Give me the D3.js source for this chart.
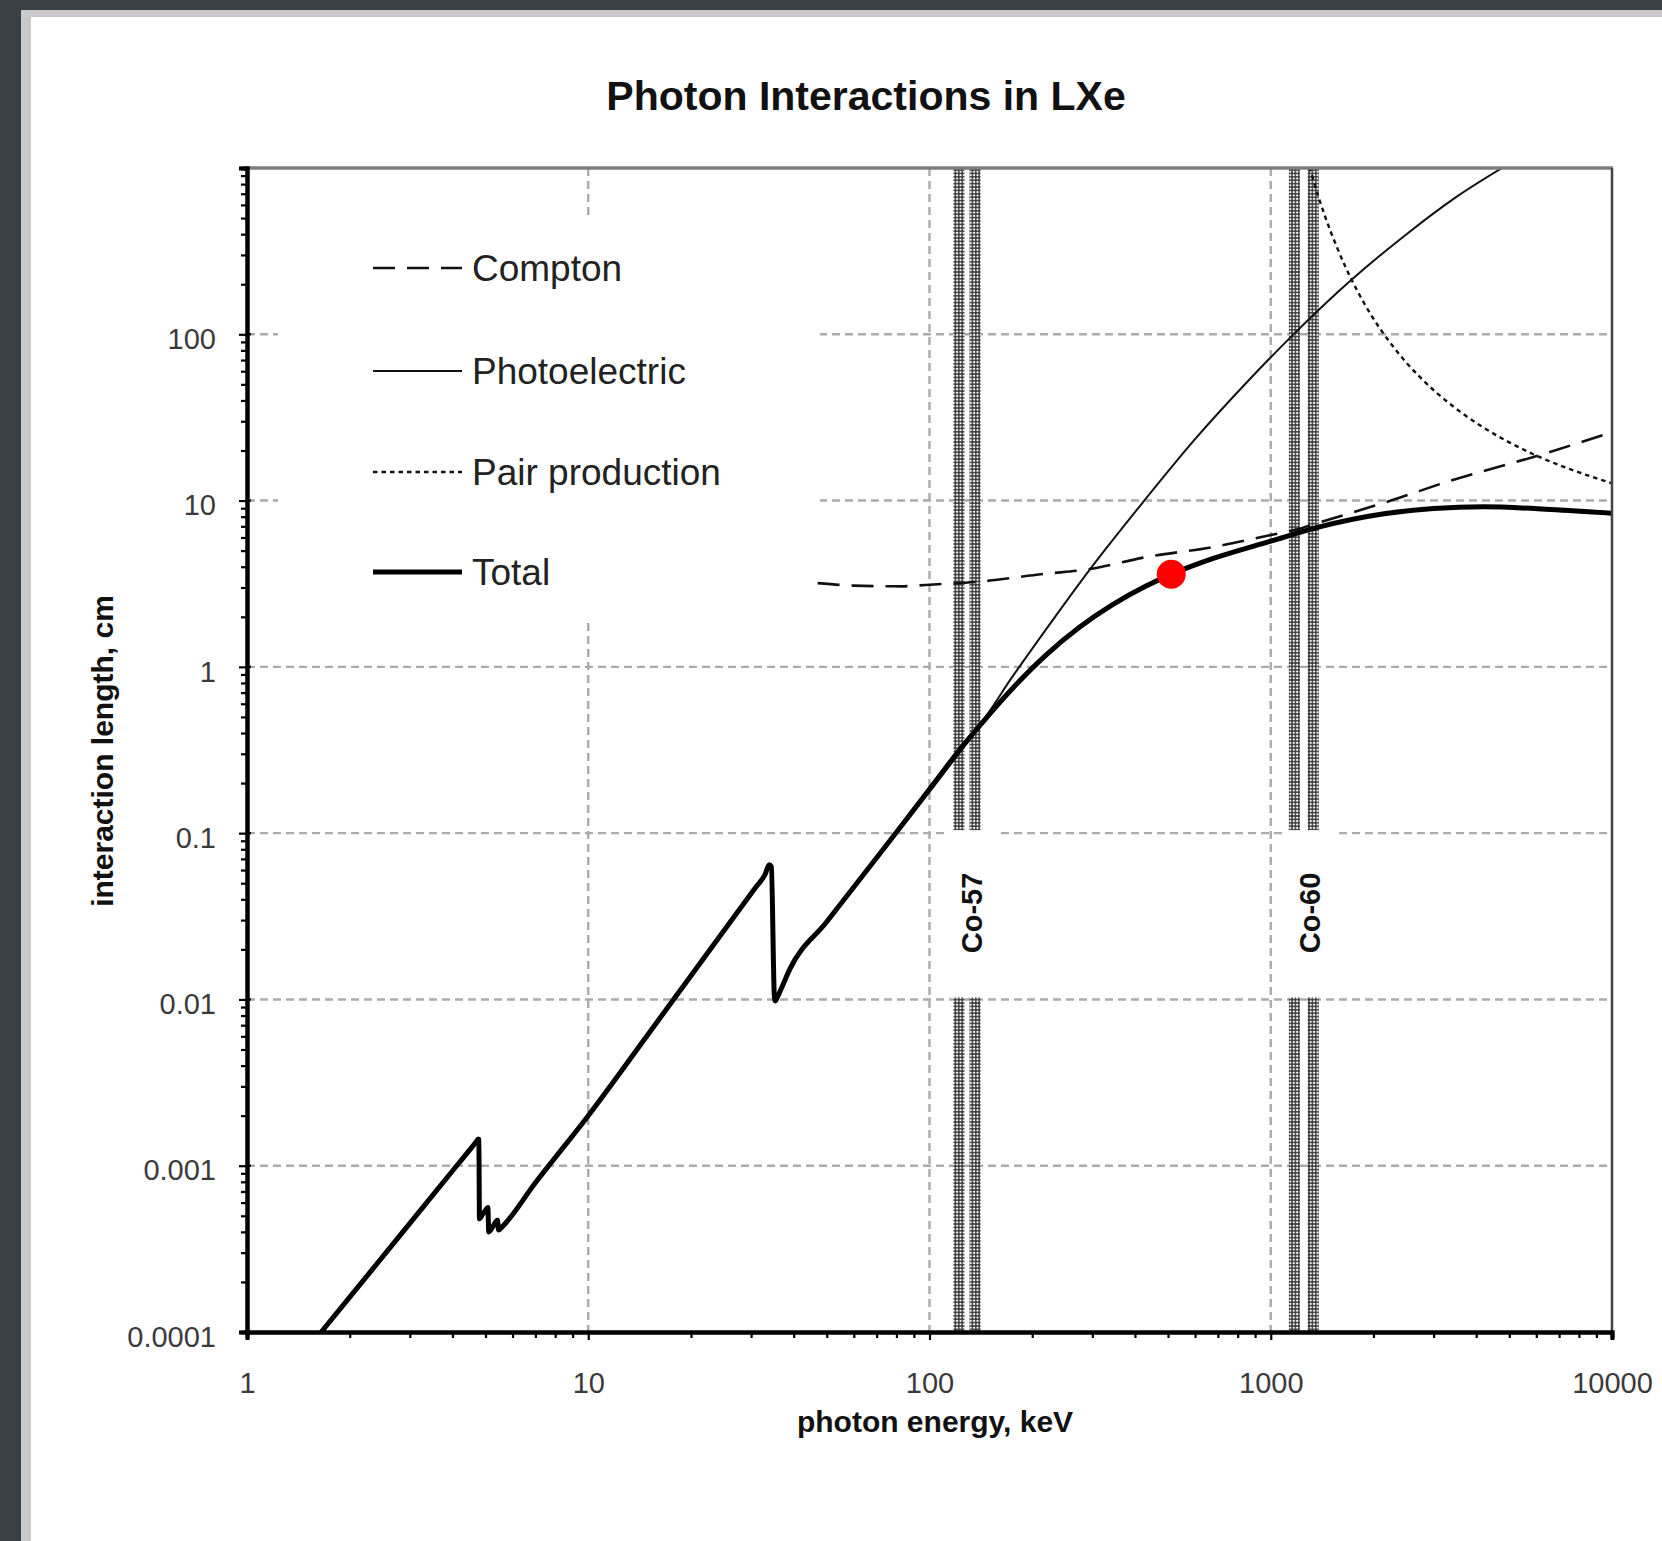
<!DOCTYPE html>
<html><head><meta charset="utf-8">
<script src="https://cdn.jsdelivr.net/npm/d3@7/dist/d3.min.js"></script>
<style>html,body{margin:0;padding:0;background:#3b4046;overflow:hidden}</style>
</head><body><svg id="c" width="1662" height="1541"></svg>
<script>
// ---------- data ----------
const chartTitle = "Photon Interactions in LXe";
const xLabel = "photon energy, keV";
const yLabel = "interaction length, cm";
const xTickValues = [1, 10, 100, 1000, 10000];
const xTickLabels = ["1", "10", "100", "1000", "10000"];
const yTickValues = [0.0001, 0.001, 0.01, 0.1, 1, 10, 100];
const yTickLabels = ["0.0001", "0.001", "0.01", "0.1", "1", "10", "100"];
const gridXValues = [10, 100, 1000];
const gridYValues = [0.001, 0.01, 0.1, 1, 10, 100];

const totalEnergy = [1.65, 2, 3, 4, 4.5, 4.7, 4.76, 4.78, 4.80, 4.9, 5.0, 5.08, 5.11, 5.25, 5.42, 5.46, 5.6, 7, 10, 15, 19.8, 25, 31, 33.0, 33.9, 34.4, 35.1, 35.3, 35.8, 36.7, 38.9, 50, 71.4, 100, 129.5, 150, 175, 219, 275, 344, 431, 511, 675, 1000, 1371, 2149, 3000, 4210, 6620, 10000];
const totalLength = [1.0e-4, 1.62e-4, 4.5e-4, 9.3e-4, 1.25e-3, 1.40e-3, 1.45e-3, 1.44e-3, 4.8e-4, 5.1e-4, 5.4e-4, 5.6e-4, 4.0e-4, 4.3e-4, 4.7e-4, 4.1e-4, 4.3e-4, 7.9e-4, 2.0e-3, 6.2e-3, 0.0135, 0.026, 0.0474, 0.0566, 0.0646, 0.063, 0.0105, 0.0098, 0.0103, 0.0115, 0.0151, 0.0293, 0.075, 0.183, 0.363, 0.52, 0.741, 1.173, 1.728, 2.364, 3.06, 3.6, 4.47, 5.70, 6.9, 8.33, 8.96, 9.17, 8.84, 8.39];

const photoEnergy = [1.65, 2, 3, 4, 4.5, 4.7, 4.76, 4.78, 4.80, 4.9, 5.0, 5.08, 5.11, 5.25, 5.42, 5.46, 5.6, 7, 10, 15, 19.8, 25, 31, 33.0, 33.9, 34.4, 35.1, 35.3, 35.8, 36.7, 38.9, 50, 71.4, 100, 129.5, 140, 175, 219, 293, 421, 600, 873, 1158, 1698, 2500, 3500, 4723];
const photoLength = [1.0e-4, 1.62e-4, 4.5e-4, 9.3e-4, 1.25e-3, 1.40e-3, 1.45e-3, 1.44e-3, 4.8e-4, 5.1e-4, 5.4e-4, 5.6e-4, 4.0e-4, 4.3e-4, 4.7e-4, 4.1e-4, 4.3e-4, 7.9e-4, 2.0e-3, 6.2e-3, 0.0135, 0.026, 0.0474, 0.0566, 0.0646, 0.063, 0.0105, 0.0098, 0.0103, 0.0115, 0.0151, 0.0294, 0.076, 0.19, 0.375, 0.447, 0.873, 1.67, 3.78, 9.7, 23.4, 54.4, 98.5, 207, 400, 670, 990];

const comptonEnergy = [47, 60, 82, 100, 137, 219, 287, 431, 675, 1000, 1158, 1500, 2249, 3373, 6050, 10000];
const comptonLength = [3.19, 3.08, 3.05, 3.12, 3.24, 3.63, 3.84, 4.57, 5.25, 6.2, 6.6, 7.75, 10, 13.2, 18.6, 25.8];

const pairEnergy = [1280, 1320, 1383, 1450, 1550, 1650, 1800, 2000, 2250, 2500, 3013, 3600, 4223, 5000, 6050, 7500, 10000];
const pairLength = [1138, 906, 661, 497, 348, 258, 180, 124, 87.8, 67.4, 45.8, 34.1, 27.3, 22.4, 18.5, 15.5, 12.7];

const markerEnergy = [511];
const markerLength = [3.6];

const sourceNames = ["Co-57", "Co-60"];
const sourceLines = [[122, 136], [1173, 1332]];

const legendNames = ["Compton", "Photoelectric", "Pair production", "Total"];

// ---------- layout ----------
const W = 1662, H = 1541;
const L = 247, R = 1612, T = 168, B = 1332;
const svg = d3.select("#c");
const x = d3.scaleLog().domain([1, 10000]).range([L, R]);
const y = d3.scaleLog().domain([0.0001, 1000]).range([B, T]);
const FONT = "'Liberation Sans', Arial, Helvetica, sans-serif";

const styles = {
  Compton: {w: 2.6, dash: "22,12", color: "#111"},
  Photoelectric: {w: 2, dash: null, color: "#111"},
  "Pair production": {w: 2.4, dash: "4.5,4", color: "#111"},
  Total: {w: 5, dash: null, color: "#000"}
};

// background panel
svg.append("rect").attr("x", 0).attr("y", 0).attr("width", W).attr("height", H).attr("fill", "#3b4046");
svg.append("rect").attr("x", 21).attr("y", 10).attr("width", W).attr("height", H).attr("fill", "#c9c9c9");
svg.append("rect").attr("x", 31).attr("y", 17).attr("width", W).attr("height", H).attr("fill", "#ffffff");

const defs = svg.append("defs");
defs.append("clipPath").attr("id", "plotclip").append("rect")
  .attr("x", L).attr("y", T).attr("width", R - L).attr("height", B - T);
const pat = defs.append("pattern").attr("id", "hatch").attr("patternUnits", "userSpaceOnUse")
  .attr("width", 3.4).attr("height", 3.4);
pat.append("rect").attr("width", 3.4).attr("height", 3.4).attr("fill", "#3a3a3a");
pat.append("circle").attr("cx", 1.7).attr("cy", 1.7).attr("r", 1.1).attr("fill", "#fff");

// gridlines
const grid = svg.append("g").attr("stroke", "#ababab").attr("stroke-width", 2.4).attr("stroke-dasharray", "8,5");
grid.selectAll("line.gx").data(gridXValues).join("line")
  .attr("x1", d => x(d)).attr("x2", d => x(d)).attr("y1", T).attr("y2", B);
grid.selectAll("line.gy").data(gridYValues).join("line")
  .attr("x1", L).attr("x2", R).attr("y1", d => y(d)).attr("y2", d => y(d));

// white box behind legend
svg.append("rect").attr("x", 278).attr("y", 217).attr("width", 820 - 278).attr("height", 623 - 217).attr("fill", "#fff");

// source bands
const yTopBand = y(0.1) - 3, yBotBand = y(0.01) - 2;
sourceLines.forEach((es, i) => {
  const cx = x(es[1]) - 3;
  svg.append("rect").attr("x", cx - 25).attr("y", y(0.1) - 5).attr("width", 50)
    .attr("height", (y(0.01) - 5) - (y(0.1) - 5)).attr("fill", "#fff");
  es.forEach(e => {
    svg.append("rect").attr("x", x(e) - 5.5).attr("y", T).attr("width", 11)
      .attr("height", yTopBand - T).attr("fill", "url(#hatch)");
    svg.append("rect").attr("x", x(e) - 5.5).attr("y", yBotBand).attr("width", 11)
      .attr("height", B - yBotBand).attr("fill", "url(#hatch)");
  });
  svg.append("text").attr("transform", `translate(${cx},${913}) rotate(-90)`)
    .attr("text-anchor", "middle").attr("dominant-baseline", "central")
    .attr("font-family", FONT).attr("font-weight", "bold").attr("font-size", 29)
    .attr("fill", "#111").text(sourceNames[i]);
});

// curves
const line = d3.line().x(d => x(d[0])).y(d => y(d[1])).curve(d3.curveMonotoneX);
const curves = svg.append("g").attr("clip-path", "url(#plotclip)").attr("fill", "none");
function drawSeries(es, ls, name) {
  const s = styles[name];
  curves.append("path").datum(es.map((e, i) => [e, ls[i]]))
    .attr("d", line).attr("stroke", s.color).attr("stroke-width", s.w)
    .attr("stroke-dasharray", s.dash).attr("stroke-linejoin", "round").attr("stroke-linecap", s.dash ? "butt" : "round");
}
drawSeries(comptonEnergy, comptonLength, "Compton");
drawSeries(pairEnergy, pairLength, "Pair production");
drawSeries(photoEnergy, photoLength, "Photoelectric");
drawSeries(totalEnergy, totalLength, "Total");

svg.selectAll("circle.mark").data(markerEnergy.map((e, i) => [e, markerLength[i]])).join("circle")
  .attr("cx", d => x(d[0])).attr("cy", d => y(d[1])).attr("r", 14.5).attr("fill", "#ff0000");

// minor ticks
const minorX = [], minorY = [];
for (let p = 0; p < 4; p++) for (let k = 2; k <= 9; k++) minorX.push(k * Math.pow(10, p));
for (let p = -4; p < 3; p++) for (let k = 2; k <= 9; k++) minorY.push(k * Math.pow(10, p));

// borders
svg.append("line").attr("x1", L - 2).attr("x2", R + 1).attr("y1", T).attr("y2", T).attr("stroke", "#7d7d7d").attr("stroke-width", 3.5);
svg.append("line").attr("x1", R).attr("x2", R).attr("y1", T).attr("y2", B).attr("stroke", "#444").attr("stroke-width", 2.5);

// x axis
const xAxisG = svg.append("g").attr("transform", `translate(0,${B})`);
xAxisG.call(d3.axisBottom(x).tickValues(minorX).tickSize(6).tickFormat(""));
xAxisG.call(g => g.append("g").call(d3.axisBottom(x).tickValues(xTickValues).tickSize(8)
  .tickFormat((d, i) => xTickLabels[i])));
xAxisG.selectAll("path.domain").attr("stroke", "#000").attr("stroke-width", 4);
xAxisG.selectAll(".tick line").attr("stroke", "#000").attr("stroke-width", 2.2);
xAxisG.selectAll("text").attr("font-family", FONT).attr("font-size", 29).attr("fill", "#3a3a3a").attr("dy", null).attr("y", 0)
  .attr("transform", "translate(0,61)");

// y axis
const yAxisG = svg.append("g").attr("transform", `translate(${L},0)`);
yAxisG.call(d3.axisLeft(y).tickValues(minorY).tickSize(6).tickFormat(""));
yAxisG.call(g => g.append("g").call(d3.axisLeft(y).tickValues(yTickValues).tickSize(8)
  .tickFormat((d, i) => yTickLabels[i])));
yAxisG.selectAll("path.domain").attr("stroke", "#000").attr("stroke-width", 4);
yAxisG.selectAll(".tick line").attr("stroke", "#000").attr("stroke-width", 2.2);
yAxisG.selectAll("text").attr("font-family", FONT).attr("font-size", 29).attr("fill", "#3a3a3a")
  .attr("x", -31).attr("dy", "0.32em").attr("transform", "translate(0,5)");
svg.append("g").selectAll("line").data(yTickValues).join("line")
  .attr("x1", L).attr("x2", L + 4).attr("y1", d => y(d)).attr("y2", d => y(d)).attr("stroke", "#000").attr("stroke-width", 2.2);

// legend
const legY = [268, 371, 472, 572];
legendNames.forEach((n, i) => {
  const s = styles[n];
  svg.append("line").attr("x1", 373).attr("x2", 462).attr("y1", legY[i]).attr("y2", legY[i])
    .attr("stroke", s.color).attr("stroke-width", s.w).attr("stroke-dasharray", s.dash);
  svg.append("text").attr("x", 472).attr("y", legY[i] + 13).attr("font-family", FONT)
    .attr("font-size", 37).attr("fill", "#222").text(n);
});

// titles
svg.append("text").attr("x", 866).attr("y", 110).attr("text-anchor", "middle")
  .attr("font-family", FONT).attr("font-weight", "bold").attr("font-size", 41).attr("fill", "#111").text(chartTitle);
svg.append("text").attr("x", 935).attr("y", 1432).attr("text-anchor", "middle")
  .attr("font-family", FONT).attr("font-weight", "bold").attr("font-size", 30).attr("fill", "#111").text(xLabel);
svg.append("text").attr("transform", "translate(113,751) rotate(-90)").attr("text-anchor", "middle")
  .attr("font-family", FONT).attr("font-weight", "bold").attr("font-size", 30).attr("fill", "#111").text(yLabel);
</script></body></html>
